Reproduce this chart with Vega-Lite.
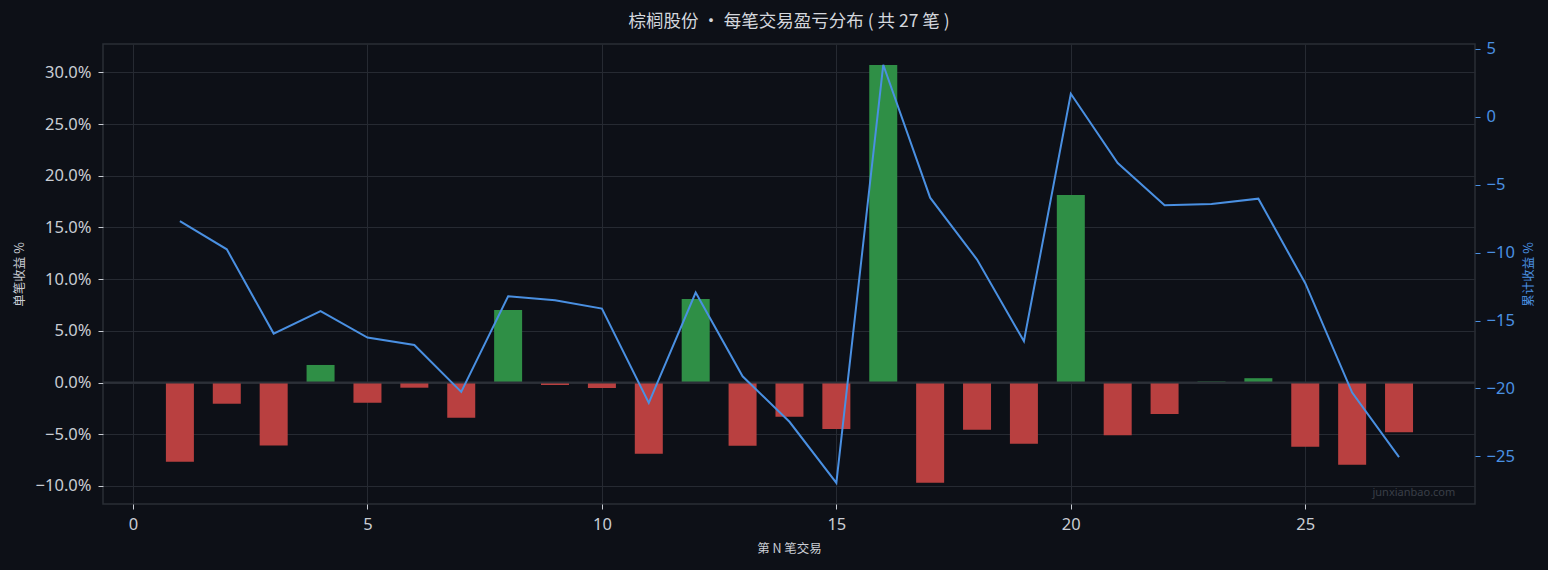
{
  "$schema": "https://vega.github.io/schema/vega-lite/v6.json",
  "width": 1372,
  "height": 460,
  "autosize": {"type": "none"},
  "padding": {"left": 103, "top": 44, "right": 73, "bottom": 66},
  "background": "#0d1017",
  "title": {
    "text": "棕榈股份 · 每笔交易盈亏分布 ( 共 27 笔 )",
    "font": "Noto Sans CJK SC",
    "fontSize": 17.5,
    "fontWeight": "normal",
    "color": "#d4d7dd",
    "anchor": "middle",
    "offset": 10
  },
  "config": {
    "font": "Noto Sans CJK SC",
    "view": {"stroke": "#2a2e36", "strokeWidth": 1.5},
    "axis": {
      "domain": false,
      "grid": true,
      "gridColor": "#262a32",
      "gridWidth": 1,
      "tickSize": 5,
      "tickColor": "#c9cdd4",
      "labelFont": "Noto Sans",
      "labelFontSize": 16.5,
      "labelColor": "#c9cdd4",
      "titleFont": "Noto Sans CJK SC",
      "titleFontSize": 12.5,
      "titleFontWeight": "normal",
      "titleColor": "#c9cdd4",
      "zindex": 1
    }
  },
  "data": {
    "values": [
      {"trade": 1, "pnl": -7.67, "cum": -7.68},
      {"trade": 2, "pnl": -2.05, "cum": -9.76},
      {"trade": 3, "pnl": -6.1, "cum": -15.96},
      {"trade": 4, "pnl": 1.7, "cum": -14.3},
      {"trade": 5, "pnl": -1.95, "cum": -16.25},
      {"trade": 6, "pnl": -0.5, "cum": -16.8},
      {"trade": 7, "pnl": -3.4, "cum": -20.25},
      {"trade": 8, "pnl": 7.02, "cum": -13.21},
      {"trade": 9, "pnl": -0.24, "cum": -13.5},
      {"trade": 10, "pnl": -0.53, "cum": -14.12},
      {"trade": 11, "pnl": -6.89, "cum": -21.06},
      {"trade": 12, "pnl": 8.08, "cum": -12.94},
      {"trade": 13, "pnl": -6.12, "cum": -19.1},
      {"trade": 14, "pnl": -3.31, "cum": -22.45},
      {"trade": 15, "pnl": -4.5, "cum": -26.95},
      {"trade": 16, "pnl": 30.73, "cum": 3.82},
      {"trade": 17, "pnl": -9.7, "cum": -5.96},
      {"trade": 18, "pnl": -4.57, "cum": -10.51},
      {"trade": 19, "pnl": -5.92, "cum": -16.52},
      {"trade": 20, "pnl": 18.15, "cum": 1.69},
      {"trade": 21, "pnl": -5.1, "cum": -3.41},
      {"trade": 22, "pnl": -3.05, "cum": -6.52},
      {"trade": 23, "pnl": 0.1, "cum": -6.42},
      {"trade": 24, "pnl": 0.42, "cum": -6.03},
      {"trade": 25, "pnl": -6.2, "cum": -12.25},
      {"trade": 26, "pnl": -7.95, "cum": -20.3},
      {"trade": 27, "pnl": -4.8, "cum": -25.05}
    ]
  },
  "layer": [
    {
      "layer": [
        {
          "mark": {"type": "bar", "width": 28},
          "encoding": {
            "x": {
              "field": "trade",
              "type": "quantitative",
              "scale": {"domain": [-0.64, 28.62], "nice": false, "zero": false, "padding": 0},
              "axis": {"values": [0, 5, 10, 15, 20, 25], "title": "第 N 笔交易", "titlePadding": 10, "labelPadding": 7}
            },
            "y": {
              "field": "pnl",
              "type": "quantitative",
              "scale": {"domain": [-11.75, 32.75], "nice": false},
              "axis": {
                "orient": "left",
                "values": [-10, -5, 0, 5, 10, 15, 20, 25, 30],
                "labelExpr": "format(datum.value, '.1f') + '%'",
                "title": "单笔收益 %",
                "titlePadding": 9,
                "labelPadding": 7
              }
            },
            "color": {
              "condition": {"test": "datum.pnl >= 0", "value": "#2f8f46"},
              "value": "#b94040"
            }
          }
        },
        {
          "data": {"values": [{}]},
          "mark": {"type": "rule", "color": "#2c3038", "strokeWidth": 2},
          "encoding": {"y": {"datum": 0}}
        },
        {
          "data": {"values": [{}]},
          "mark": {"type": "text", "text": "junxianbao.com", "align": "right", "baseline": "middle", "fontSize": 11, "font": "Noto Sans", "color": "#3a3f48"},
          "encoding": {"x": {"datum": 28.2}, "y": {"datum": -10.64}}
        }
      ]
    },
    {
      "mark": {"type": "line", "color": "#4a90e2", "strokeWidth": 2},
      "encoding": {
        "x": {
          "field": "trade",
          "type": "quantitative",
          "scale": {"domain": [-0.64, 28.62], "nice": false, "zero": false, "padding": 0},
          "axis": {"values": [0, 5, 10, 15, 20, 25], "title": "第 N 笔交易", "titlePadding": 10, "labelPadding": 7}
        },
        "y": {
          "field": "cum",
          "type": "quantitative",
          "scale": {"domain": [-28.5, 5.35], "nice": false},
          "axis": {
            "orient": "right",
            "values": [-25, -20, -15, -10, -5, 0, 5],
            "title": "累计收益 %",
            "titleAngle": 270,
            "titleColor": "#4a90e2",
            "labelColor": "#4a90e2",
            "tickColor": "#4a90e2",
            "titlePadding": 21,
            "labelPadding": 6
          }
        }
      }
    }
  ],
  "resolve": {"scale": {"y": "independent"}}
}
